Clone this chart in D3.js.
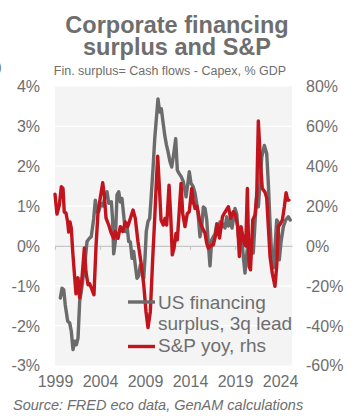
<!DOCTYPE html>
<html>
<head>
<meta charset="utf-8">
<script src="https://cdn.jsdelivr.net/npm/d3@7"></script>
<style>
  html, body { margin: 0; padding: 0; background: #ffffff; }
  svg { display: block; font-family: "Liberation Sans", Arial, sans-serif; }
</style>
</head>
<body>
<svg id="chart" width="356" height="416"></svg>
<script>
// ---------- data ----------
const titleLines = ["Corporate financing", "surplus and S&P"];
const subtitle = "Fin. surplus= Cash flows  - Capex, % GDP";
const source = "Source: FRED eco data, GenAM calculations";
const legendGray = ["US financing", "surplus, 3q lead"];
const legendRed = ["S&P yoy, rhs"];

const yearTicks = [1999, 2004, 2009, 2014, 2019, 2024];
const leftTicks = [-3, -2, -1, 0, 1, 2, 3, 4];
const rightTicks = [-60, -40, -20, 0, 20, 40, 60, 80];

// US financing surplus, 3q lead (% GDP, lhs)
const grayDates = [1999.59,1999.78,1999.97,2000.14,2000.41,2000.63,2000.81,2001.0,2001.19,2001.37,2001.56,2001.74,2001.92,
  2002.11,2002.37,2002.56,2002.81,2003.03,2003.3,2003.48,2003.67,2003.86,2004.11,2004.33,2004.59,2004.78,2004.97,
  2005.26,2005.39,2005.52,2005.7,2005.89,2006.08,2006.26,2006.44,2006.63,2006.81,2007.0,2007.19,2007.37,2007.56,
  2007.74,2007.92,2008.11,2008.3,2008.48,2008.67,2008.86,2009.0,2009.14,2009.33,2009.52,2009.7,2009.89,2010.08,
  2010.26,2010.44,2010.63,2010.81,2011.0,2011.19,2011.37,2011.56,2011.78,2011.97,2012.22,2012.41,2012.59,2012.78,
  2013.0,2013.26,2013.56,2013.74,2013.92,2014.11,2014.33,2014.56,2014.74,2014.92,2015.11,2015.3,2015.48,2015.67,
  2015.86,2016.03,2016.22,2016.41,2016.59,2016.78,2016.97,2017.14,2017.33,2017.52,2017.7,2017.89,2018.08,2018.26,
  2018.44,2018.67,2019.0,2019.19,2019.37,2019.56,2019.74,2019.92,2020.11,2020.3,2020.48,2020.67,2020.86,2021.03,
  2021.22,2021.41,2021.59,2021.78,2021.97,2022.26,2022.52,2022.7,2022.89,2023.08,2023.26,2023.44,2023.63,2023.78,
  2023.92,2024.11,2024.37,2024.63,2024.92,2025.14];
const grayValues = [-1.31,-1.06,-1.1,-1.48,-1.89,-1.93,-2.14,-2.6,-2.39,-2.48,-2.31,-1.39,-1.14,
  -0.81,-0.31,0.11,0.19,0.23,0.69,1.15,0.86,0.86,1.07,1.0,1.28,1.36,1.07,
  1.11,0.7,-0.2,0.11,1.28,1.36,1.1,1.19,0.78,0.36,0.5,0.11,0.1,-0.31,
  -0.14,-0.48,-0.81,-0.75,-0.48,-0.55,-0.81,-0.3,0.36,0.61,0.69,1.28,1.94,2.69,
  3.19,3.69,3.36,3.44,3.11,2.78,2.55,2.36,2.11,1.98,2.36,2.69,1.9,1.82,
  1.75,1.61,1.23,1.53,1.86,1.57,1.5,1.32,1.07,0.73,0.23,0.48,0.98,0.94,
  0.65,0.07,-0.5,0.15,0.23,0.3,0.55,0.3,0.6,0.48,0.55,0.45,0.73,0.5,
  0.65,0.45,0.94,0.8,0.23,0.45,0.23,-0.27,-0.68,-0.2,0.1,-0.43,0.1,-0.18,
  0.57,1.32,0.98,1.57,2.23,2.52,2.32,1.57,0.57,-0.27,-0.55,-0.02,0.65,0.6,
  -0.35,0.1,0.48,0.65,0.73,0.65];

// S&P 500 yoy (%, rhs)
const redDates = [1999.0,1999.22,1999.48,1999.7,1999.89,2000.03,2000.22,2000.41,2000.52,2000.67,2000.81,2000.97,
  2001.14,2001.33,2001.56,2001.74,2002.0,2002.26,2002.44,2002.67,2002.86,2003.11,2003.33,2003.56,2003.78,2004.08,
  2004.3,2004.48,2004.67,2004.97,2005.26,2005.52,2005.7,2006.0,2006.26,2006.52,2006.81,2007.08,2007.37,2007.67,
  2007.92,2008.22,2008.59,2008.86,2009.11,2009.33,2009.59,2009.86,2010.08,2010.26,2010.41,2010.59,2010.78,2011.03,
  2011.22,2011.41,2011.67,2011.86,2012.03,2012.22,2012.44,2012.59,2012.81,2013.0,2013.19,2013.44,2013.7,2013.92,
  2014.19,2014.37,2014.56,2014.78,2015.03,2015.3,2015.67,2015.86,2016.03,2016.41,2016.59,2016.83,2017.0,2017.28,
  2017.61,2017.89,2018.26,2018.52,2018.81,2019.06,2019.3,2019.48,2019.67,2019.86,2020.03,2020.19,2020.37,2020.56,
  2020.72,2020.97,2021.22,2021.41,2021.59,2021.86,2022.03,2022.33,2022.52,2022.7,2022.89,2023.14,2023.44,2023.63,
  2023.81,2024.03,2024.26,2024.48,2024.67,2024.86,2025.0];
const redValues = [26,16,20.5,29.7,28.8,17,16.5,12,7,12,9,-3,
  -13,-24,-16,-26,-16,-1,-13,-19.5,-19,-22,-24.5,0,17,25.5,
  31.7,25.5,14,10.5,6.3,3.8,7.2,3.8,9.7,7.2,12,9.7,13.8,18,
  13.8,2,-9.5,-19.5,-33,-41,-33,-6,14,32,45,30,13,10.5,
  13.8,10.5,30.5,14.7,-4.5,-1.2,6.3,3,18,31.3,16.3,9.7,16.3,17.2,
  28.8,22,18.8,20,13.8,9.7,6.3,1.3,-1.2,0.5,0.5,5,11,4,
  14.7,17,19.7,13.8,17.2,15.5,9.7,-5.3,9.7,5,1.3,0,28.8,-10.3,
  -12,13,15.5,25,62.7,39.7,28.8,27,24,9.7,-5.3,-13.7,-20.3,-10.3,
  9.7,11,13,19.7,26.7,23,23];

// ---------- drawing ----------
const svg = d3.select("#chart");
const textGray = "#6e6e6e";
const grayLine = "#6b6b6b";
const redLine = "#c1141d";

const plot = { left: 55, right: 292, top: 86.5, bottom: 365.5 };

const x = d3.scaleLinear().domain([1999, 2025.33]).range([plot.left, plot.right]);
const yL = d3.scaleLinear().domain([-3, 4]).range([plot.bottom, plot.top]);
const yR = d3.scaleLinear().domain([-60, 80]).range([plot.bottom, plot.top]);

// plot background
svg.append("rect")
  .attr("x", plot.left).attr("y", plot.top)
  .attr("width", plot.right - plot.left).attr("height", plot.bottom - plot.top)
  .attr("fill", "#f4f4f4");

// gridlines
svg.append("g").selectAll("line")
  .data(leftTicks.filter(d => d !== 0 && d !== 4 && d !== -3))
  .join("line")
  .attr("x1", plot.left).attr("x2", plot.right)
  .attr("y1", d => yL(d)).attr("y2", d => yL(d))
  .attr("stroke", "#ffffff").attr("stroke-width", 1.3);

// zero line with ticks
const zeroAxis = svg.append("g")
  .attr("transform", `translate(0,${yL(0)})`)
  .call(d3.axisBottom(x).tickValues(yearTicks).tickSize(4).tickSizeOuter(0).tickFormat(""));
zeroAxis.selectAll("path,line").attr("stroke", "#c6c6c6").attr("stroke-width", 1.2);

// left axis
const la = svg.append("g")
  .attr("transform", `translate(${plot.left},0)`)
  .call(d3.axisLeft(yL).tickValues(leftTicks).tickSize(0).tickPadding(15).tickFormat(d => d + "%"));
la.select(".domain").remove();
la.selectAll("text").attr("font-size", 16).attr("fill", textGray)
  .attr("font-family", "Liberation Sans, Arial, sans-serif").attr("dy", "0.34em");

// right axis
const ra = svg.append("g")
  .attr("transform", `translate(${plot.right},0)`)
  .call(d3.axisRight(yR).tickValues(rightTicks).tickSize(0).tickPadding(14).tickFormat(d => d + "%"));
ra.select(".domain").remove();
ra.selectAll("text").attr("font-size", 16).attr("fill", textGray)
  .attr("font-family", "Liberation Sans, Arial, sans-serif").attr("dy", "0.34em");

// bottom axis labels
const ba = svg.append("g")
  .attr("transform", `translate(0,${plot.bottom})`)
  .call(d3.axisBottom(x).tickValues(yearTicks).tickSize(0).tickPadding(10.5).tickFormat(d3.format("d")));
ba.select(".domain").remove();
ba.selectAll("text").attr("font-size", 16).attr("fill", textGray)
  .attr("font-family", "Liberation Sans, Arial, sans-serif");

// lines
const grayData = grayDates.map((d, i) => [d, grayValues[i]]);
const redData = redDates.map((d, i) => [d, redValues[i]]);

svg.append("path")
  .datum(grayData)
  .attr("d", d3.line().x(d => x(d[0])).y(d => yL(d[1])))
  .attr("fill", "none").attr("stroke", grayLine).attr("stroke-width", 3.4)
  .attr("stroke-linejoin", "round").attr("stroke-linecap", "round");

svg.append("path")
  .datum(redData)
  .attr("d", d3.line().x(d => x(d[0])).y(d => yR(d[1])))
  .attr("fill", "none").attr("stroke", redLine).attr("stroke-width", 3.4)
  .attr("stroke-linejoin", "round").attr("stroke-linecap", "round");

// legend
const lg = svg.append("g");
lg.append("line").attr("x1", 128).attr("x2", 155).attr("y1", 302).attr("y2", 302)
  .attr("stroke", grayLine).attr("stroke-width", 3.4);
lg.append("line").attr("x1", 128).attr("x2", 155).attr("y1", 346.5).attr("y2", 346.5)
  .attr("stroke", redLine).attr("stroke-width", 3.4);
lg.selectAll("text.g").data(legendGray).join("text")
  .attr("x", 158).attr("y", (d, i) => 308.5 + i * 21.6)
  .attr("font-size", 19).attr("fill", textGray).text(d => d);
lg.selectAll("text.r").data(legendRed).join("text")
  .attr("x", 158).attr("y", 352)
  .attr("font-size", 19).attr("fill", textGray).text(d => d);

// titles
svg.selectAll("text.title").data(titleLines).join("text")
  .attr("x", 177).attr("y", (d, i) => 32.5 + i * 22)
  .attr("text-anchor", "middle").attr("font-size", 23.5).attr("font-weight", "bold")
  .attr("fill", textGray).text(d => d);

svg.append("text").attr("x", 170).attr("y", 74.5).attr("text-anchor", "middle")
  .attr("font-size", 12.5).attr("fill", textGray).text(subtitle);

svg.append("text").attr("x", -3).attr("y", 72).attr("font-size", 14)
  .attr("fill", textGray).text(")");

svg.append("text").attr("x", 13).attr("y", 410)
  .attr("font-size", 14.5).attr("font-style", "italic").attr("fill", textGray).text(source);
</script>
</body>
</html>
